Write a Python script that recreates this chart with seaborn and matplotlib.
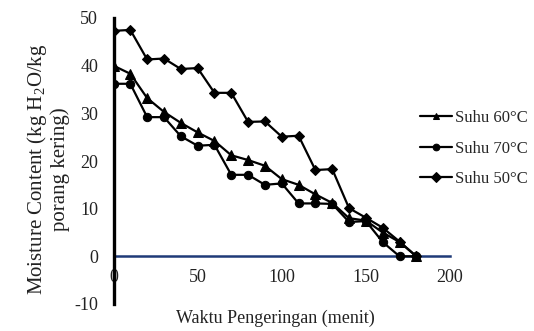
import matplotlib
matplotlib.use("Agg")
import matplotlib.pyplot as plt
import seaborn as sns
import pandas as pd

# ---- data ----
time = [0, 10, 20, 30, 40, 50, 60, 70, 80, 90, 100, 110, 120, 130, 140, 150, 160, 170, 180]
suhu60 = [40, 38.3, 33.2, 30.3, 28, 26, 24.2, 21.2, 20.2, 19, 16.2, 15, 13, 11.2, 8, 7.5, 5, 3, 0]
suhu70 = [36.2, 36.2, 29.2, 29.2, 25.2, 23.2, 23.4, 17.1, 17.1, 15, 15.3, 11.1, 11.1, 11, 7.2, 7.4, 3, 0, 0]
suhu50 = [47.3, 47.5, 41.3, 41.5, 39.3, 39.5, 34.3, 34.3, 28.2, 28.3, 25.1, 25.3, 18.1, 18.3, 10.1, 8.1, 6, 3.1, 0]
series_names = ["Suhu 60°C", "Suhu 70°C", "Suhu 50°C"]
xticks = [0, 50, 100, 150, 200]
yticks = [-10, 0, 10, 20, 30, 40, 50]
xlabel = "Waktu Pengeringan (menit)"
ylabel = "Moisture Content (kg H$_2$O/kg\nporang kering)"

frames = []
for name, vals in zip(series_names, [suhu60, suhu70, suhu50]):
    frames.append(pd.DataFrame({"t": time, "mc": vals, "series": name}))
df = pd.concat(frames, ignore_index=True)

sns.set_theme(style="white")
plt.rcParams['font.family'] = ['Liberation Serif', 'DejaVu Serif']
plt.rcParams['mathtext.fontset'] = 'custom'
plt.rcParams['mathtext.rm'] = 'Liberation Serif'
plt.rcParams['mathtext.it'] = 'Liberation Serif:italic'

fig = plt.figure(figsize=(5.34, 3.31), dpi=100)
ax = fig.add_axes([113.5 / 534, 1 - 304 / 331, (450 - 113.5) / 534, (304 - 18) / 331])

sns.lineplot(data=df, x="t", y="mc", hue="series", style="series",
             markers={"Suhu 60°C": "^", "Suhu 70°C": "o", "Suhu 50°C": "D"},
             dashes=False, palette=["black"] * 3, ax=ax, linewidth=1.6,
             markersize=6, markeredgecolor="black", sort=False)
for line, ms in zip(ax.lines, [7, 6, 5]):
    line.set_markersize(ms)

ax.set_xlim(0, 200)
ax.set_ylim(-10, 50)
ax.set_xticks(xticks)
ax.set_yticks(yticks)
ax.set_xticklabels([str(v) for v in xticks])
ax.set_yticklabels([str(v) for v in yticks])

for s in ["top", "right"]:
    ax.spines[s].set_visible(False)
ax.spines["left"].set_linewidth(2.4)
ax.spines["left"].set_color("black")
ax.spines["bottom"].set_position(("data", 0))
ax.spines["bottom"].set_color("#1f3a78")
ax.spines["bottom"].set_linewidth(1.8)
ax.spines["bottom"].set_zorder(0)

ax.tick_params(axis="both", length=0, labelsize=13, colors="#222222")
ax.tick_params(axis="x", pad=9)
ax.tick_params(axis="y", pad=11)

ax.set_xlabel(xlabel, fontsize=13, color="#222222")
ax.xaxis.set_label_coords(0.48, -0.02)
ax.set_ylabel(ylabel, fontsize=15, color="#222222", linespacing=1.05)
ax.yaxis.set_label_coords(-0.13, 0.47)

handles, labels = ax.get_legend_handles_labels()
ax.legend(handles, labels, loc="upper left", frameon=False,
          bbox_to_anchor=(420 / 534, 1 - 110 / 331), bbox_transform=fig.transFigure,
          fontsize=12, labelspacing=0.88, handlelength=1.9, handletextpad=0.2,
          borderpad=0, borderaxespad=0, markerscale=0.8)

fig.savefig("out.png", dpi=100)
